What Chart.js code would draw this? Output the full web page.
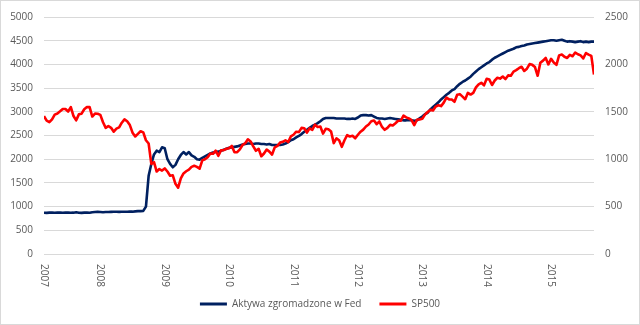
<!DOCTYPE html>
<html lang="pl">
<head>
  <meta charset="UTF-8" />
  <title>Aktywa Fed vs SP500</title>
  <script src="https://cdn.jsdelivr.net/npm/chart.js"></script>
  <style>
    html,body { margin:0; padding:0; background:#fff; }
    #wrap     { width:640px; height:325px; position:relative; }
  </style>
</head>
<body>
  <div id="wrap"><canvas id="chart" width="640" height="325"></canvas></div>

  <script>
    /* ---------- data (semi-monthly obs., mid & end of month, Feb 2007 .. Aug 2015) ---------- */
    const firstPeriod = 2007 + 1/12 + 1/24;   // mid Feb 2007, as fractional year
    const periodStep  = 1/24;                 // half a month

    const xTickYears  = [2007.125, 2008, 2009, 2010, 2011, 2012, 2013, 2014, 2015];
    const xTickLabels = ["2007", "2008", "2009", "2010", "2011", "2012", "2013", "2014", "2015"];

    const seriesNames = ["Aktywa zgromadzone w Fed", "SP500"];

    // Fed total assets, bn USD (left axis)
    const fedAssets = [
      870,868, 872,875, 870,873, 875,870, 872,875, 870,872, 880,870, 868,872, 875,870, 880,885, 890,885,
      880,885, 885,888, 890,890, 888,890, 892,890, 895,893, 900,905, 905,910, 1000,1650, 1900,2100, 2180,2150, 2250,2230,
      2000,1900, 1830,1880, 2000,2090, 2150,2100, 2150,2080, 2050,2000, 1990,2030, 2060,2090, 2120,2140, 2150,2160, 2180,2200, 2220,2240,
      2250,2260, 2270,2290, 2310,2320, 2330,2330, 2320,2330, 2330,2320, 2320,2310, 2320,2300, 2300,2300, 2300,2310, 2330,2360, 2400,2420,
      2460,2490, 2530,2580, 2620,2660, 2700,2730, 2760,2800, 2850,2870, 2870,2870, 2870,2860, 2860,2860, 2860,2850, 2850,2860, 2850,2880,
      2920,2930, 2930,2920, 2930,2900, 2870,2860, 2860,2850, 2860,2870, 2860,2850, 2840,2830, 2820,2820, 2830,2820, 2810,2820, 2860,2900,
      2950,2980, 3050,3100, 3150,3200, 3260,3310, 3360,3400, 3450,3480, 3540,3590, 3630,3660, 3700,3740, 3800,3850, 3900,3940, 3980,4020,
      4050,4100, 4140,4170, 4200,4230, 4260,4290, 4310,4330, 4360,4370, 4390,4400, 4420,4430, 4440,4450, 4460,4470, 4480,4490, 4500,4510,
      4510,4500, 4510,4520, 4500,4480, 4490,4480, 4470,4480, 4490,4470, 4480,4470, 4480,4480
    ];

    // S&P 500 index level (right axis)
    const sp500 = [
      1455,1406, 1390,1420, 1470,1482, 1505,1530, 1530,1503, 1550,1455, 1410,1473, 1480,1527, 1550,1549, 1450,1481, 1480,1468,
      1390,1330, 1350,1331, 1290,1322, 1335,1385, 1420,1400, 1360,1280, 1240,1267, 1295,1283, 1200,1166, 950,968, 870,896, 880,903,
      870,826, 830,740, 700,798, 850,873, 890,919, 930,919, 900,987, 1000,1021, 1060,1057, 1090,1036, 1095,1096, 1110,1115,
      1140,1073, 1075,1104, 1150,1169, 1210,1187, 1135,1089, 1110,1031, 1060,1102, 1080,1049, 1125,1141, 1175,1183, 1200,1181, 1240,1258,
      1290,1286, 1330,1327, 1280,1326, 1310,1364, 1340,1345, 1270,1321, 1315,1292, 1170,1219, 1200,1131, 1200,1253, 1240,1247, 1220,1258,
      1290,1312, 1345,1366, 1400,1408, 1370,1398, 1340,1310, 1330,1362, 1355,1379, 1405,1406, 1460,1441, 1430,1412, 1360,1416, 1420,1426,
      1470,1498, 1520,1515, 1555,1569, 1560,1597, 1650,1631, 1630,1606, 1680,1686, 1660,1633, 1700,1682, 1700,1757, 1790,1806, 1780,1848,
      1840,1783, 1830,1859, 1850,1872, 1845,1884, 1880,1924, 1940,1960, 1975,1931, 1955,2003, 1995,1972, 1880,2018, 2040,2068, 2000,2059,
      2020,1995, 2095,2105, 2080,2068, 2100,2086, 2125,2107, 2095,2063, 2120,2104, 2090,1893
    ];

    const toPoints = arr => arr.map((v, i) => ({ x: firstPeriod + i * periodStep, y: v }));
    const xMax = firstPeriod + (sp500.length - 1) * periodStep;

    /* ---------- look ---------- */
    const FONT  = "'Open Sans', sans-serif";
    const TXT   = "#595959";
    const GRID  = "#d9d9d9";
    const NAVY  = "#002060";
    const RED   = "#ff0000";

    /* white bg + thin frame round the picture */
    const frame = {
      id: "frame",
      beforeDraw(c) {
        const ctx = c.ctx;
        ctx.save();
        ctx.fillStyle = "#fff";
        ctx.fillRect(0, 0, c.width, c.height);
        ctx.restore();
      },
      afterDraw(c) {
        const ctx = c.ctx;
        ctx.save();
        ctx.strokeStyle = GRID;
        ctx.lineWidth = 1;
        ctx.strokeRect(0.5, 0.5, c.width - 1, c.height - 1);
        ctx.restore();
      }
    };

    /* year labels, turned 90° clockwise (Chart.js only turns the other way) */
    const yearLabels = {
      id: "yearLabels",
      afterDraw(c) {
        const ctx = c.ctx, xs = c.scales.x;
        ctx.save();
        ctx.fillStyle = TXT;
        ctx.font = "10px " + FONT;
        ctx.textAlign = "left";
        ctx.textBaseline = "middle";
        xTickYears.forEach((yr, i) => {
          ctx.save();
          ctx.translate(xs.getPixelForValue(yr), c.chartArea.bottom + 10);
          ctx.rotate(Math.PI / 2);
          ctx.fillText(xTickLabels[i], 0, 0);
          ctx.restore();
        });
        ctx.restore();
      }
    };

    const plainNum = v => String(v);

    new Chart(document.getElementById("chart"), {
      type: "line",
      data: {
        datasets: [
          { label: seriesNames[0], data: toPoints(fedAssets), yAxisID: "y",
            borderColor: NAVY, backgroundColor: NAVY, borderWidth: 2.6, order: 1 },
          { label: seriesNames[1], data: toPoints(sp500), yAxisID: "y2",
            borderColor: RED, backgroundColor: RED, borderWidth: 2.6, order: 0 }
        ]
      },
      options: {
        responsive: false,
        animation: false,
        events: [],
        elements: { point: { radius: 0 }, line: { tension: 0, borderJoinStyle: "round" } },
        layout: { padding: { top: 14, bottom: 6, left: 0, right: 0 } },
        scales: {
          x: {
            type: "linear", min: firstPeriod, max: xMax,
            grid: { display: false }, border: { display: false },
            ticks: { display: false },
            afterFit: s => { s.height = 27; }
          },
          y: {
            position: "left", min: 0, max: 5000,
            ticks: { stepSize: 500, color: TXT, font: { family: FONT, size: 10 }, padding: 11, callback: plainNum },
            grid: { color: GRID, drawTicks: false }, border: { display: false },
            afterFit: s => { s.width = 44; }
          },
          y2: {
            position: "right", min: 0, max: 2500,
            ticks: { stepSize: 500, color: TXT, font: { family: FONT, size: 10 }, padding: 11, callback: plainNum },
            grid: { display: false, drawTicks: false }, border: { display: false },
            afterFit: s => { s.width = 46; }
          }
        },
        plugins: {
          tooltip: { enabled: false },
          legend: {
            position: "bottom",
            labels: {
              color: TXT, font: { family: FONT, size: 10 },
              boxWidth: 27, boxHeight: 3, padding: 18,
              sort: (a, b) => a.datasetIndex - b.datasetIndex,
              generateLabels(c) {
                const items = Chart.defaults.plugins.legend.labels.generateLabels(c);
                items.forEach(it => { it.lineWidth = 0; it.fillStyle = it.strokeStyle; });
                return items;
              }
            }
          }
        }
      },
      plugins: [frame, yearLabels]
    });
  </script>
</body>
</html>
